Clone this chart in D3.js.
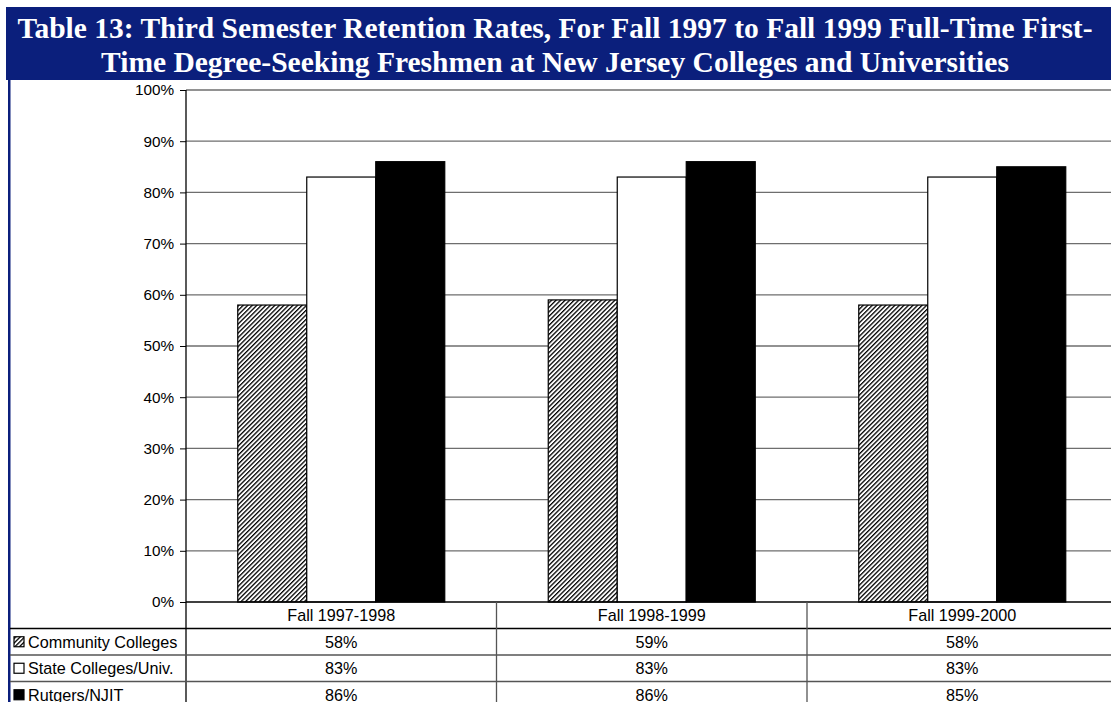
<!DOCTYPE html>
<html><head><meta charset="utf-8">
<script src="https://cdn.jsdelivr.net/npm/d3@7"></script>
<style>html,body{margin:0;padding:0;background:#fff;overflow:hidden}</style>
</head><body>
<svg id="c" width="1111" height="702"></svg>
<script>
const titleLines = ["Table 13: Third Semester Retention Rates, For Fall 1997 to Fall 1999 Full-Time First-",
                    "Time Degree-Seeking Freshmen at New Jersey Colleges and Universities"];
const categories = ["Fall 1997-1998", "Fall 1998-1999", "Fall 1999-2000"];
const seriesNames = ["Community Colleges", "State Colleges/Univ.", "Rutgers/NJIT"];
const communityColleges = [58, 59, 58];
const stateColleges = [83, 83, 83];
const rutgersNJIT = [86, 86, 85];
const yTicks = [0, 10, 20, 30, 40, 50, 60, 70, 80, 90, 100];

const series = [
  {name: seriesNames[0], values: communityColleges, fill: "url(#hatch)"},
  {name: seriesNames[1], values: stateColleges, fill: "#fff"},
  {name: seriesNames[2], values: rutgersNJIT, fill: "#000"}
];

const svg = d3.select("#c");
const defs = svg.append("defs");
const pat = defs.append("pattern").attr("id","hatch").attr("patternUnits","userSpaceOnUse")
  .attr("width",3.2).attr("height",3.2).attr("patternTransform","rotate(45)");
pat.append("rect").attr("width",3.2).attr("height",3.2).attr("fill","#fff");
pat.append("line").attr("x1",0).attr("y1",0).attr("x2",0).attr("y2",3.2).attr("stroke","#000").attr("stroke-width",2.6);

const navy = "#0b1f7c";
// banner
svg.append("rect").attr("x",6).attr("y",7).attr("width",1105).attr("height",73).attr("fill",navy);
svg.append("rect").attr("x",8).attr("y",80).attr("width",2.5).attr("height",622).attr("fill",navy);
svg.selectAll("text.title").data(titleLines).join("text").attr("class","title")
  .attr("x",555).attr("y",(d,i)=>38+i*34).attr("text-anchor","middle")
  .attr("font-family","'Liberation Serif','Times New Roman',serif").attr("font-weight","bold")
  .attr("font-size",29.5).attr("fill","#fff").text(d=>d);

const plotLeft = 186, plotTop = 90, plotBottom = 602;
const bandW = 310.5;
const x = d3.scaleBand().domain(categories).range([plotLeft, plotLeft + bandW*categories.length]).padding(0);
const xi = d3.scaleBand().domain(seriesNames).range([bandW/6, bandW*5/6]).padding(0);
const y = d3.scaleLinear().domain([0,100]).range([plotBottom, plotTop]);

// gridlines
svg.append("g").selectAll("line").data(yTicks.filter(t=>t>0)).join("line")
  .attr("x1",plotLeft).attr("x2",1111).attr("y1",d=>y(d)).attr("y2",d=>y(d))
  .attr("stroke","#6e6e6e").attr("stroke-width",1.3);

// y axis
const yAxis = d3.axisLeft(y).tickValues(yTicks).tickFormat(d=>d+"%").tickSize(6).tickPadding(6);
const ga = svg.append("g").attr("transform",`translate(${plotLeft},0)`).call(yAxis);
ga.select(".domain").remove();
ga.selectAll("line").attr("stroke","#000");
ga.selectAll("text").attr("font-family","'Liberation Sans',Arial,sans-serif").attr("font-size",15.3).attr("fill","#000");

// bars
const groups = svg.append("g").selectAll("g").data(series).join("g");
groups.selectAll("rect").data(s=>s.values.map((v,i)=>({v, cat:categories[i], s}))).join("rect")
  .attr("x",d=>x(d.cat)+xi(d.s.name)).attr("width",xi.bandwidth())
  .attr("y",d=>y(d.v)).attr("height",d=>y(0)-y(d.v))
  .attr("fill",d=>d.s.fill).attr("stroke","#000").attr("stroke-width",1.2);

// axis lines
svg.append("line").attr("x1",plotLeft).attr("x2",plotLeft).attr("y1",plotTop).attr("y2",702).attr("stroke","#000").attr("stroke-width",1.3);
svg.append("line").attr("x1",plotLeft).attr("x2",1111).attr("y1",plotBottom).attr("y2",plotBottom).attr("stroke","#000").attr("stroke-width",1.5);

// data table
const rowH = 26.5;
const rowY = i => plotBottom + rowH*(i+1);
svg.append("g").selectAll("line").data(series).join("line")
  .attr("x1",10).attr("x2",1111).attr("y1",(d,i)=>rowY(i)).attr("y2",(d,i)=>rowY(i))
  .attr("stroke",(d,i)=>i===0?"#000":"#555").attr("stroke-width",1.3);
svg.append("g").selectAll("line").data(categories.slice(1)).join("line")
  .attr("x1",d=>x(d)).attr("x2",d=>x(d)).attr("y1",plotBottom).attr("y2",702)
  .attr("stroke","#555").attr("stroke-width",1.3);

const font = "'Liberation Sans',Arial,sans-serif";
const fs = 16.2;
svg.append("g").selectAll("text").data(categories).join("text")
  .attr("x",d=>x(d)+bandW/2).attr("y",plotBottom+19).attr("text-anchor","middle")
  .attr("font-family",font).attr("font-size",fs).text(d=>d);

series.forEach((s,i)=>{
  const cy = rowY(i) + rowH/2;
  svg.append("rect").attr("x",14).attr("y",cy-5).attr("width",10).attr("height",10)
    .attr("fill",s.fill).attr("stroke","#000").attr("stroke-width",1.2);
  svg.append("text").attr("x",28).attr("y",cy+6).attr("font-family",font).attr("font-size",fs).text(s.name);
  svg.append("g").selectAll("text").data(s.values).join("text")
    .attr("x",(d,j)=>x(categories[j])+bandW/2).attr("y",cy+6).attr("text-anchor","middle")
    .attr("font-family",font).attr("font-size",fs).text(d=>d+"%");
});
</script>
</body></html>
